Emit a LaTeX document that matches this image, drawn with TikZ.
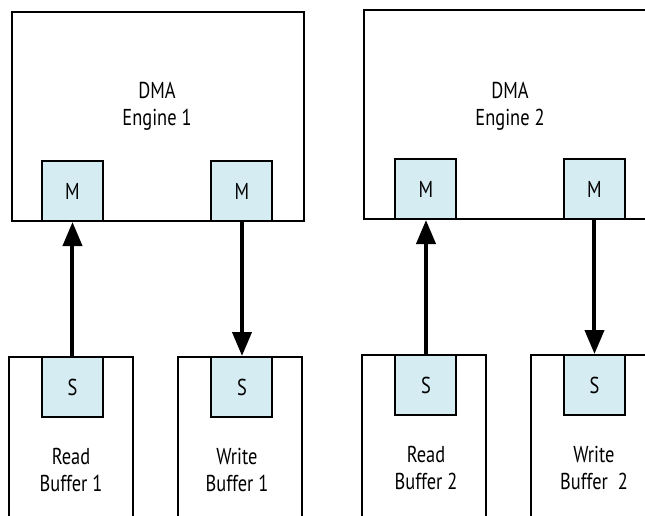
\documentclass[tikz,border=0pt]{standalone}
\usepackage{fontspec}
\setmainfont{PT Sans}[FakeStretch=0.8]
\usetikzlibrary{arrows.meta}
\definecolor{portblue}{RGB}{214,236,243}

\begin{document}
\begin{tikzpicture}[x=0.5pt, y=-0.5pt,
  engine/.style={draw, line width=1pt, inner sep=0pt},
  buffer/.style={draw, line width=0.7pt, inner sep=0pt,
    minimum width=62pt, minimum height=91.5pt},
  port/.style={draw, line width=1pt, fill=portblue, inner sep=0pt,
    minimum width=30.5pt, minimum height=30pt,
    font=\fontsize{11.5}{13.5}\selectfont},
  lbl/.style={align=center, font=\fontsize{11.5}{13.5}\selectfont},
  flow/.style={line width=2pt, -{Triangle[width=9.5pt,length=12pt]}}]

\useasboundingbox (0,0) rectangle (645,516);
\clip (0,0) rectangle (645,516);

%=== DMA engines ===
\node[engine, minimum width=146pt, minimum height=104.5pt] (eng1) at (158,116.5) {};
\node[engine, minimum width=150.5pt, minimum height=104.5pt] (eng2) at (514.5,114.5) {};
\node[lbl] (eng1txt) at (157,106.5) {DMA\\Engine 1};
\node[lbl] (eng2txt) at (510,106) {DMA\\Engine 2};

% master ports
\foreach \n/\xp/\yp in {m1/72.5/191, m2/242/191, m3/426/189, m4/594.5/189}
  \node[port] (\n) at (\xp,\yp) {M};

%=== Buffers ===
\node[buffer] (rb1) at (71,448.5) {};
\node[buffer] (wb1) at (240,448.5) {};
\node[buffer] (rb2) at (424,446.5) {};
\node[buffer] (wb2) at (593,446.5) {};

% slave ports
\foreach \n/\xp/\yp in {s1/72.5/387, s2/242/387, s3/426/385, s4/594.5/385}
  \node[port] (\n) at (\xp,\yp) {S};

\node[lbl] (rb1txt) at (71,469.5) {Read\\Buffer 1};
\node[lbl] (wb1txt) at (237,469.5) {Write\\Buffer 1};
\node[lbl] (rb2txt) at (426,468) {Read\\Buffer 2};
\node[lbl] (wb2txt) at (594,468) {Write\\Buffer\ \ 2};

%=== Transfers ===
\draw[flow] (s1) -- (m1);
\draw[flow] (m2) -- (s2);
\draw[flow] (s3) -- (m3);
\draw[flow] (m4) -- (s4);

\end{tikzpicture}
\end{document}
